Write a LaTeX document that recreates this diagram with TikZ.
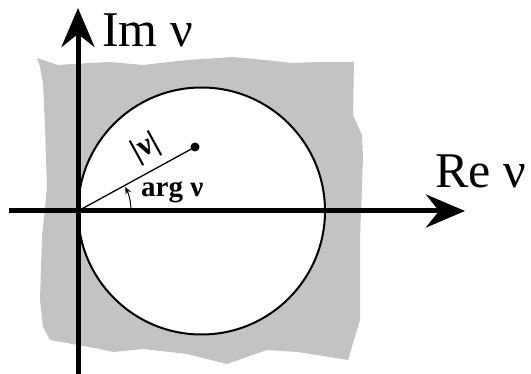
\documentclass[tikz,border=0pt]{standalone}
\usepackage{fontspec}
\setmainfont{Liberation Serif}
\usetikzlibrary{arrows.meta}
\definecolor{bggray}{RGB}{195,195,195}
\tikzset{
  axis/.style={line width=5pt, -{Stealth[length=39pt,width=33pt,inset=13pt]}},
  bigtext/.style={anchor=base west, inner sep=0pt, font=\fontsize{50}{50}\selectfont},
  argtext/.style={inner sep=0pt, font=\bfseries\fontsize{29}{29}\selectfont},
  abstext/.style={inner sep=0pt, font=\bfseries\fontsize{31}{31}\selectfont},
  ringstyle/.style={circle, draw, line width=2pt, fill=white, minimum size=247pt, inner sep=0pt},
  dotstyle/.style={circle, fill=black, inner sep=0pt, minimum size=9pt},
  radiusline/.style={line width=1.3pt},
  anglearc/.style={line width=1pt, -{Stealth[length=7pt,width=6pt]}}
}
\begin{document}
\begin{tikzpicture}[x=1pt,y=-1pt]
\useasboundingbox (0,0) rectangle (531,374);
% gray region
\fill[bggray] (37,58) -- (58,65) -- (90,63) -- (110,62) -- (143,65) -- (187,60) -- (233,57) -- (265,60) -- (292,63) -- (318,62) -- (354,62) -- (353,115) -- (362,135) -- (363,157) -- (362,187) -- (360,237) -- (360,320) -- (348,360) -- (298,352) -- (267,350) -- (227,364) -- (187,354) -- (143,349) -- (113,352) -- (100,349) -- (50,340) -- (43,327) -- (40,300) -- (42,237) -- (47,187) -- (45,127) -- (43,83) -- (40,67) -- cycle;
% circle
\node[ringstyle] (ring) at (201.5,211) {};
% axes
\coordinate (O) at (78,211);
\coordinate (xs) at (9,211);
\coordinate (xe) at (465,211);
\coordinate (ys) at (78,374);
\coordinate (ye) at (78,8);
\draw[axis] (xs) -- (xe);
\draw[axis] (ys) -- (ye);
% radius vector
\node[dotstyle] (P) at (195,147) {};
\draw[radiusline] (O) -- (P.center);
% angle arc
\coordinate (arcstart) at (131,211);
\draw[anglearc] (arcstart) arc[start angle=0, end angle=-27, radius=53];
% labels
\node[bigtext] (im) at (102,47) {Im ν};
\node[bigtext] (re) at (435,188) {Re ν};
\node[argtext, anchor=base west] (arg) at (141,197) {arg ν};
\node[abstext, rotate=28.7] (abs) at (146,148) {|ν|};
\end{tikzpicture}
\end{document}
